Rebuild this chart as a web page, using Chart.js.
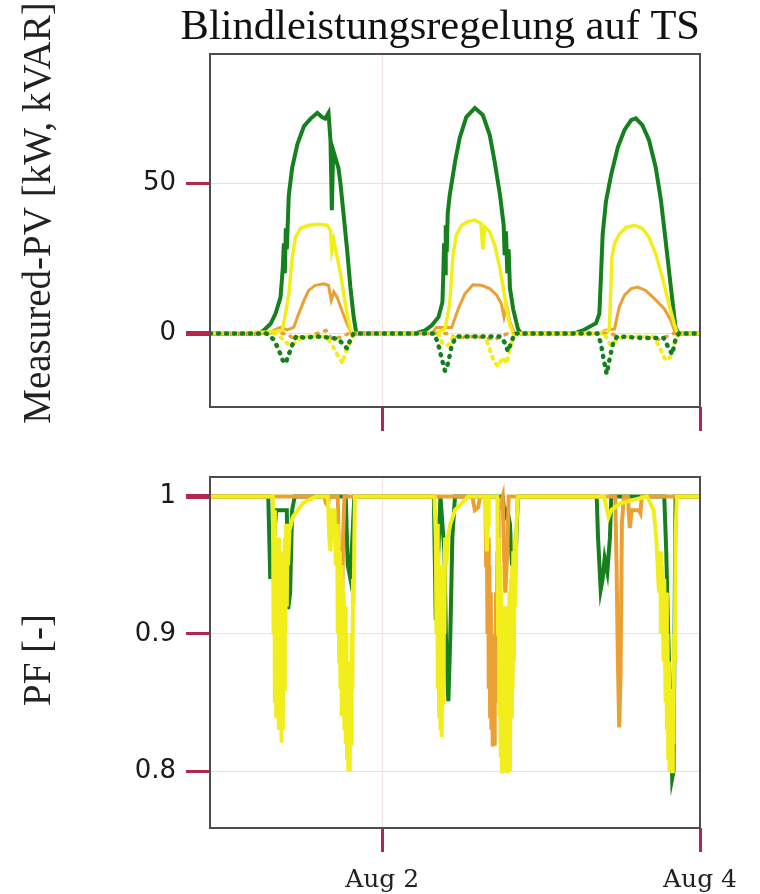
<!DOCTYPE html>
<html>
<head>
<meta charset="utf-8">
<script src="https://cdn.jsdelivr.net/npm/chart.js@4.4.1/dist/chart.umd.min.js"></script>
<style>
  body { margin: 0; background: #fff; }
  canvas { position: absolute; left: 0; }
  #pv { top: 0; }
  #pf { top: 440px; }
</style>
</head>
<body>
<canvas id="pv" width="760" height="440"></canvas>
<canvas id="pf" width="760" height="454"></canvas>
<script>
// time axis in hours since Aug 1 00:00
const xTicks = [24, 72];
const xLabels = ['Aug 2', 'Aug 4'];
const pvTicks = [0, 50];
const pfTicks = [0.8, 0.9, 1];
const pfLabels = ['0.8', '0.9', '1'];

// active power [kW], [hour, value]
const pGreen = [
  [-2, 0], [5.5, 0], [6.1, 1], [7.15, 3.2], [7.9, 6.6], [8.65, 12], [9.0, 22], [9.15, 30], [9.3, 20], [9.45, 35], [9.6, 28], [9.9, 46],
  [10.4, 55], [11.2, 63], [12.2, 69], [13.2, 71.5], [14.2, 73.4], [14.9, 72], [15.4, 71.5], [15.9, 73.4], [16.2, 64], [16.4, 41], [16.6, 61],
  [17.4, 55], [17.7, 50], [18.2, 39], [18.7, 28], [19.2, 15.4], [19.7, 5.4], [20.1, 0],
  [29.0, 0], [30.5, 1], [31.5, 2.7], [32.5, 5.4], [33.1, 10.4], [33.2, 17], [33.35, 30], [33.5, 20], [33.6, 36], [33.75, 27], [33.9, 40],
  [34.2, 46], [35.0, 57], [35.7, 65], [36.7, 72], [38.0, 75], [39.2, 72.7], [40.25, 66], [41.0, 57], [41.8, 46], [42.35, 36], [42.5, 26],
  [42.7, 34], [42.9, 20], [43.1, 28], [43.3, 15], [43.8, 8], [44.5, 1.5], [45.0, 0],
  [53.0, 0], [54.5, 1.2], [56.3, 3.4], [56.8, 6.6], [57.1, 22], [57.3, 33], [57.8, 44], [58.6, 53], [59.6, 62], [60.6, 67.7], [61.6, 71],
  [62.3, 71.6], [63.3, 69.3], [64.3, 64.3], [65.3, 55.4], [66.1, 44.3], [66.8, 31], [67.6, 15.4], [68.3, 2], [68.8, 0], [72, 0]
];
const pYellow = [
  [-2, 0], [7.0, 0.5], [8.9, 1], [9.4, 6.6], [9.9, 13], [10.4, 25], [10.9, 32], [11.7, 35], [12.9, 36], [14.4, 36.3], [15.7, 36],
  [16.2, 34.3], [16.4, 27.7], [16.7, 31], [17.2, 25.4], [17.7, 20], [18.2, 13], [18.7, 6.6], [19.2, 1.5], [19.7, 0],
  [32.0, 0], [33.5, 1.5], [34.2, 10], [34.7, 26], [35.2, 32.7], [36.0, 36], [37.0, 37.3], [38.0, 37.7], [38.9, 36.6], [39.2, 28], [39.5, 35.4],
  [40.25, 33.8], [41.0, 29.3], [41.8, 21.5], [42.3, 15], [42.8, 8], [43.3, 2.7], [43.8, 0],
  [57.0, 0], [58.3, 1], [58.7, 25.4], [59.1, 30], [59.8, 33], [60.8, 35.2], [62.1, 36], [63.3, 34.9], [64.3, 32], [65.3, 26.6],
  [66.3, 18.8], [67.3, 9.9], [68.1, 3.2], [68.6, 0], [72, 0]
];
const pOrange = [
  [-2, 0], [7.0, 0], [7.6, 1], [8.65, 2], [9.65, 1.2], [10.65, 2], [11.4, 6.6], [12.2, 11], [12.9, 14.3], [13.9, 16], [15.2, 16.5], [15.9, 16],
  [16.3, 11], [16.7, 13.8], [17.2, 12], [17.9, 7.7], [18.7, 3.2], [19.4, 0],
  [31.5, 0], [32.2, 2], [34.5, 2], [35.5, 8.2], [36.5, 13.2], [37.7, 16.2], [39.0, 16], [40.25, 14.9], [41.3, 12.7], [42.0, 9.9],
  [42.4, 5.4], [42.8, 9.3], [43.3, 3.8], [44.0, 0],
  [57.0, 0], [57.6, 1], [59.1, 1.5], [59.8, 8.8], [60.6, 12.7], [61.6, 14.9], [62.6, 15.4], [63.8, 14.3], [65.1, 11.6], [66.6, 8.2],
  [67.6, 4.3], [68.3, 0], [72, 0]
];

// reactive power [kVAR]
const qGreen = [
  [-2, 0], [6.5, 0], [7.6, -2], [8.3, -5], [9.0, -9], [9.4, -10], [9.9, -7], [10.4, -4], [11.0, -1], [12.5, -1.5], [14.0, -1],
  [16.5, -1.5], [17.5, -2], [18.2, -4], [18.7, -5], [19.2, -2], [19.7, 0],
  [31.8, 0], [32.4, -3], [33.0, -8.4], [33.5, -12.5], [34.0, -9.6], [34.5, -4], [35.2, -1], [38, -1], [41.8, -1], [42.5, -3],
  [43.0, -6], [43.5, -3], [44.0, 0],
  [56.5, 0], [57.0, -3], [57.4, -8], [57.9, -13.5], [58.4, -8], [58.9, -3], [59.5, -1], [63, -1.5], [66.5, -1.5], [67.3, -5],
  [67.8, -7], [68.3, -2], [68.8, 0], [72, 0]
];
const qYellow = [
  [-2, 0], [8.0, 0], [9.0, -2], [10.0, -4], [11.0, -3], [12.0, -1], [15.5, -1], [16.5, -4], [17.2, -7], [18.0, -10], [18.5, -6],
  [19.2, -3], [19.8, 0],
  [32.5, 0], [33.0, -3], [34.0, -4], [34.8, -1], [39.5, -1], [40.2, -5], [40.8, -9], [41.5, -11], [42.2, -8], [42.8, -10],
  [43.4, -4], [44.0, 0],
  [57.5, 0], [58.5, -4], [59.5, -2], [60.5, -1], [65.0, -1], [66.0, -5], [66.8, -9], [67.5, -8], [68.2, -3], [68.8, 0], [72, 0]
];
const qOrange = [
  [-2, 0], [9.5, 0], [10.5, -1.5], [13, -1], [15.5, 1], [16.5, -2], [18, -1], [19, 0],
  [34, 0], [35, -1.5], [38, -1], [41, -2], [43, 0],
  [58.5, 0], [60, -1.5], [63, -1], [66, -2], [68, 0], [72, 0]
];

// power factor [-]
const pfGreen = [
  [-2, 1], [6.8, 1], [7.1, 0.94], [7.5, 0.96], [8.0, 0.99], [9.6, 0.99], [9.8, 0.918], [10.1, 0.93], [10.4, 0.99], [10.8, 1],
  [18.5, 1], [18.8, 0.95], [19.2, 0.94], [19.5, 0.97], [19.8, 1],
  [31.8, 1], [32.1, 0.91], [32.4, 0.95], [32.8, 1], [33.4, 0.96], [33.7, 0.88], [34.0, 0.851], [34.3, 0.9], [34.6, 0.97], [35.0, 1],
  [42.2, 1], [42.5, 0.985], [42.9, 0.99], [43.3, 0.98], [43.6, 0.95], [43.9, 0.92], [44.2, 0.96], [44.5, 1],
  [56.4, 1], [56.6, 0.97], [57.0, 0.932], [57.3, 0.94], [57.6, 0.955], [58.0, 0.945], [58.4, 0.97], [58.6, 1],
  [66.6, 1], [66.9, 0.96], [67.2, 0.9], [67.5, 0.85], [67.8, 0.795], [68.0, 0.8], [68.3, 1], [72, 1]
];
const pfYellow = [
  [-2, 1], [7.5, 1], [7.6, 0.9], [7.7, 0.99], [7.8, 0.85], [7.9, 0.97], [8.0, 0.84], [8.1, 0.96], [8.2, 0.86], [8.3, 0.97], [8.4, 0.83],
  [8.5, 0.95], [8.6, 0.84], [8.7, 0.96], [8.8, 0.821], [8.9, 0.94], [9.0, 0.83], [9.1, 0.95], [9.2, 0.86], [9.3, 0.97], [9.4, 0.9],
  [9.5, 0.98], [9.6, 0.92], [9.7, 0.98], [9.8, 0.95], [10.0, 0.975], [10.5, 0.985], [12, 0.995], [14, 1],
  [15.8, 1], [16.0, 0.97], [16.2, 0.96], [16.4, 0.99], [16.8, 0.99], [17.0, 0.95], [17.2, 0.98], [17.3, 0.9], [17.4, 0.97], [17.5, 0.88],
  [17.6, 0.96], [17.7, 0.86], [17.8, 0.95], [17.9, 0.84], [18.0, 0.94], [18.1, 0.85], [18.2, 0.93], [18.3, 0.83], [18.4, 0.92],
  [18.5, 0.82], [18.6, 0.9], [18.7, 0.81], [18.8, 0.88], [18.9, 0.8], [19.0, 0.86], [19.1, 0.8], [19.2, 0.87], [19.3, 0.82],
  [19.4, 0.9], [19.5, 0.86], [19.6, 0.94], [19.7, 0.92], [19.8, 0.97], [19.9, 1],
  [31.9, 1], [32.1, 0.97], [32.2, 0.9], [32.3, 0.98], [32.4, 0.86], [32.5, 0.96], [32.6, 0.84], [32.7, 0.95], [32.8, 0.83], [32.9, 0.93],
  [33.0, 0.825], [33.1, 0.92], [33.2, 0.85], [33.3, 0.95], [33.4, 0.9], [33.5, 0.97], [33.7, 0.95], [33.9, 0.97], [34.3, 0.98],
  [35, 0.99], [37, 1], [39.6, 1], [39.8, 0.96], [40.0, 0.98], [40.1, 1],
  [41.4, 1], [41.5, 0.9], [41.6, 0.97], [41.7, 0.84], [41.8, 0.95], [41.9, 0.81], [42.0, 0.93], [42.1, 0.8], [42.2, 0.92], [42.3, 0.8],
  [42.4, 0.9], [42.5, 0.81], [42.6, 0.9], [42.7, 0.8], [42.8, 0.92], [42.9, 0.8], [43.0, 0.9], [43.1, 0.82], [43.2, 0.93], [43.3, 0.8],
  [43.4, 0.94], [43.5, 0.84], [43.6, 0.95], [43.7, 0.86], [43.8, 0.96], [43.9, 0.88], [44.0, 0.97], [44.1, 0.92], [44.3, 0.98], [44.5, 1],
  [57.5, 1], [58.2, 0.985], [58.6, 0.99], [60, 0.995], [64, 1], [65.0, 0.99], [65.4, 0.97], [65.6, 0.95], [65.8, 0.93], [66.0, 0.96],
  [66.1, 0.9], [66.3, 0.95], [66.5, 0.88], [66.6, 0.94], [66.8, 0.85], [66.9, 0.93], [67.0, 0.83], [67.1, 0.9], [67.2, 0.81],
  [67.3, 0.88], [67.4, 0.8], [67.5, 0.86], [67.6, 0.8], [67.7, 0.84], [67.8, 0.8], [67.9, 0.85], [68.0, 0.82], [68.1, 0.9],
  [68.2, 0.88], [68.3, 0.97], [68.5, 1], [72, 1]
];
const pfOrange = [
  [-2, 1], [15.3, 1], [15.5, 0.995], [15.8, 0.993], [16.0, 1], [17.3, 1], [17.5, 0.95], [17.7, 0.886], [17.9, 0.9], [18.1, 0.97], [18.3, 1],
  [37.6, 1], [38.0, 0.99], [38.5, 0.992], [38.8, 1], [39.6, 1], [39.7, 0.95], [39.8, 0.99], [39.9, 0.9], [40.0, 0.97], [40.1, 0.86],
  [40.2, 0.95], [40.3, 0.84], [40.4, 0.93], [40.5, 0.83], [40.6, 0.9], [40.7, 0.818], [40.8, 0.88], [40.9, 0.82], [41.0, 0.9],
  [41.1, 0.85], [41.2, 0.93], [41.3, 0.88], [41.4, 0.96], [41.5, 0.95], [41.6, 0.99], [42.2, 1], [42.4, 0.96], [42.6, 0.93],
  [42.9, 0.96], [43.1, 1],
  [59.2, 1], [59.4, 0.95], [59.6, 0.88], [59.8, 0.832], [60.0, 0.87], [60.2, 0.98], [60.5, 1], [61.1, 1], [61.4, 0.977], [61.7, 0.99],
  [62.8, 0.99], [63.0, 0.988], [63.2, 1], [72, 1]
];

const GREEN = '#15801d';
const YELLOW = '#f2ee1c';
const ORANGE = '#eba033';
const GRID = '#f3dede';
const TICK = '#b3264d';

function line(points, color, width, dash) {
  return {
    data: points.map(p => ({ x: p[0], y: p[1] })),
    borderColor: color,
    borderWidth: width,
    borderDash: dash || [],
    borderCapStyle: dash ? 'round' : 'butt',
    pointRadius: 0,
    tension: 0,
    fill: false
  };
}

// frame round the plot area + rotated y title
const frameAndTitle = {
  id: 'frameAndTitle',
  afterDatasetsDraw(chart, args, opts) {
    const { ctx, chartArea: a } = chart;
    ctx.save();
    ctx.strokeStyle = '#4d4d4d';
    ctx.lineWidth = 2;
    ctx.strokeRect(a.left, a.top, a.right - a.left, a.bottom - a.top);
    ctx.translate(opts.x, opts.y);
    ctx.rotate(-Math.PI / 2);
    ctx.font = '39px "Liberation Serif"';
    ctx.fillStyle = '#222';
    ctx.textAlign = 'center';
    ctx.textBaseline = 'middle';
    ctx.fillText(opts.text, 0, 0);
    ctx.restore();
  }
};

function xAxis(showLabels) {
  return {
    type: 'linear',
    min: -2,
    max: 72,
    afterBuildTicks: s => { s.ticks = xTicks.map(v => ({ value: v })); },
    afterFit: s => { if (showLabels) s.height = 66; },
    ticks: {
      display: showLabels,
      autoSkip: false,
      maxRotation: 0,
      padding: 13,
      color: '#222',
      font: { family: 'DejaVu Serif', size: 25 },
      callback: (v, i) => xLabels[i]
    },
    grid: { color: GRID, lineWidth: 1, tickLength: 24, tickColor: TICK, tickWidth: 3 },
    border: { display: false }
  };
}

function yAxis(min, max, ticks, labels, heavy) {
  return {
    min: min,
    max: max,
    afterBuildTicks: s => { s.ticks = ticks.map(v => ({ value: v })); },
    afterFit: s => { s.width = 210; },
    ticks: {
      padding: 10,
      color: '#1a1a1a',
      font: { family: 'DejaVu Sans', size: 26 },
      callback: (v, i) => labels[i]
    },
    grid: {
      color: GRID,
      lineWidth: 1,
      tickLength: 24,
      tickColor: TICK,
      tickWidth: ctx => (ctx.tick && ctx.tick.value === heavy ? 5 : 3)
    },
    border: { display: false }
  };
}

new Chart(document.getElementById('pv'), {
  type: 'line',
  data: {
    datasets: [
      line(qGreen, GREEN, 4.5, [1, 7]),
      line(qYellow, YELLOW, 4, [2, 6]),
      line(qOrange, ORANGE, 3.5, [2, 7]),
      line(pYellow, YELLOW, 3.5),
      line(pOrange, ORANGE, 3),
      line(pGreen, GREEN, 4)
    ]
  },
  options: {
    responsive: false,
    animation: false,
    devicePixelRatio: 1,
    layout: { padding: { left: 0, right: 60, top: 0, bottom: 9 } },
    plugins: {
      legend: { display: false },
      tooltip: { enabled: false },
      title: {
        display: true,
        text: 'Blindleistungsregelung auf TS',
        align: 'end',
        color: '#111',
        font: { family: 'Liberation Serif', size: 42.5, weight: 'normal' },
        padding: { top: 2, bottom: 1 }
      },
      frameAndTitle: { text: 'Measured-PV [kW, kVAR]', x: 40, y: 213 }
    },
    scales: {
      x: xAxis(false),
      y: yAxis(-24.5, 93, pvTicks, pvTicks.map(String), 0)
    }
  },
  plugins: [frameAndTitle]
});

new Chart(document.getElementById('pf'), {
  type: 'line',
  data: {
    datasets: [
      line(pfYellow, YELLOW, 4),
      line(pfOrange, ORANGE, 4),
      line(pfGreen, GREEN, 4)
    ]
  },
  options: {
    responsive: false,
    animation: false,
    devicePixelRatio: 1,
    layout: { padding: { left: 0, right: 60, top: 37, bottom: 0 } },
    plugins: {
      legend: { display: false },
      tooltip: { enabled: false },
      frameAndTitle: { text: 'PF [-]', x: 40, y: 220 }
    },
    scales: {
      x: xAxis(true),
      y: yAxis(0.7588, 1.0141, pfTicks, pfLabels, 1)
    }
  },
  plugins: [frameAndTitle]
});
</script>
</body>
</html>
